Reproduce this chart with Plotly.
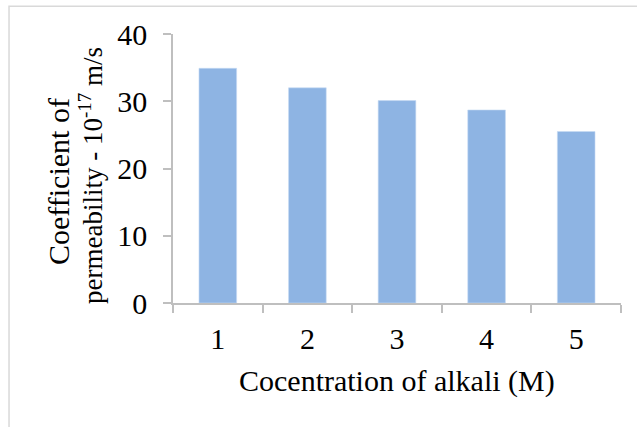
import plotly.graph_objects as go

# Permeability coefficient vs alkali concentration
concentration = ["1", "2", "3", "4", "5"]
permeability = [34.9, 32.0, 30.1, 28.7, 25.5]
y_ticks = [0, 10, 20, 30, 40]

FONT = "Liberation Serif, Times New Roman, serif"
AXIS_GREY = "#BFBFBF"
SIZE = 30

fig = go.Figure(
    go.Bar(
        x=concentration,
        y=permeability,
        width=0.42,
        marker=dict(color="#8EB4E3", line=dict(color="#C6DAF3", width=0.6)),
    )
)

fig.update_layout(
    width=637,
    height=427,
    margin=dict(l=173, r=16, t=34, b=124),
    paper_bgcolor="white",
    plot_bgcolor="white",
    showlegend=False,
    font=dict(family=FONT, size=SIZE, color="black"),
    xaxis=dict(
        type="category",
        range=[-0.5, 4.5],
        showline=True,
        linecolor=AXIS_GREY,
        linewidth=1.5,
        ticks="outside",
        tickson="boundaries",
        ticklen=8,
        tickcolor=AXIS_GREY,
        tickwidth=1.5,
        showgrid=False,
        ticklabelstandoff=8,
        tickfont=dict(family=FONT, size=SIZE),
    ),
    yaxis=dict(
        range=[0, 40],
        tickvals=y_ticks,
        showline=True,
        linecolor=AXIS_GREY,
        linewidth=1.5,
        ticks="outside",
        ticklen=8,
        tickcolor=AXIS_GREY,
        tickwidth=1.5,
        showgrid=False,
        zeroline=False,
        ticklabelstandoff=10,
        tickfont=dict(family=FONT, size=SIZE),
    ),
    shapes=[
        dict(
            type="rect",
            xref="paper",
            yref="paper",
            x0=-0.366,
            x1=1.06,
            y0=-0.5,
            y1=1.103,
            line=dict(color="#D9D9D9", width=1.5),
            fillcolor="rgba(0,0,0,0)",
            layer="below",
        )
    ],
    annotations=[
        dict(
            text="Cocentration of alkali (M)",
            xref="paper",
            yref="paper",
            x=0.5,
            y=-0.29,
            showarrow=False,
            xanchor="center",
            yanchor="middle",
            font=dict(family=FONT, size=SIZE),
        ),
        dict(
            text="Coefficient of",
            xref="paper",
            yref="paper",
            x=(58 - 173) / 448,
            y=(303 - 182) / 269,
            showarrow=False,
            textangle=-90,
            xanchor="center",
            yanchor="middle",
            font=dict(family=FONT, size=SIZE),
        ),
        dict(
            text="permeability - 10<sup>-17</sup> m/s",
            xref="paper",
            yref="paper",
            x=(91 - 173) / 448,
            y=(303 - 176) / 269,
            showarrow=False,
            textangle=-90,
            xanchor="center",
            yanchor="middle",
            font=dict(family=FONT, size=27),
        ),
    ],
)

fig.write_html("out.html")
